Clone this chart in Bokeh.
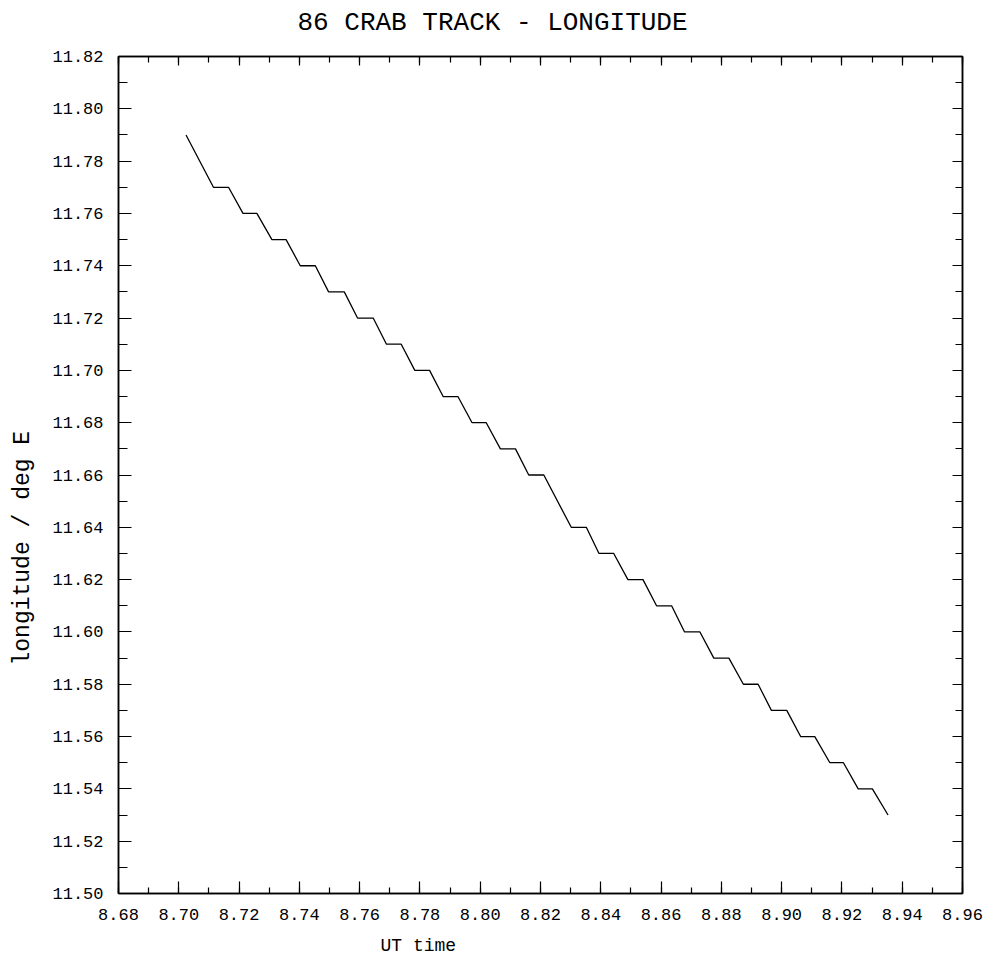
from bokeh.plotting import figure
from bokeh.models import (Range1d, LinearAxis, SingleIntervalTicker,
                          PrintfTickFormatter, Title)
from bokeh.embed import file_html
from bokeh.resources import INLINE

# Track vertices: UT time (hours) and longitude (deg E)
ut_time = [8.7024,
           8.7115, 8.7165, 8.7213, 8.7259, 8.7309, 8.7356, 8.7403, 8.7453,
           8.7497, 8.7549, 8.7593, 8.7645, 8.7689, 8.7738, 8.7783, 8.7832,
           8.7877, 8.7926, 8.7973, 8.8020, 8.8067, 8.8117, 8.8161, 8.8211,
           8.8302, 8.8352, 8.8394, 8.8443, 8.8490, 8.8540, 8.8585, 8.8635,
           8.8678, 8.8729, 8.8775, 8.8825, 8.8873, 8.8922, 8.8966, 8.9017,
           8.9063, 8.9110, 8.9160, 8.9205, 8.9254, 8.9301,
           8.9353]
longitude = [11.79,
             11.77, 11.77, 11.76, 11.76, 11.75, 11.75, 11.74, 11.74,
             11.73, 11.73, 11.72, 11.72, 11.71, 11.71, 11.70, 11.70,
             11.69, 11.69, 11.68, 11.68, 11.67, 11.67, 11.66, 11.66,
             11.64, 11.64, 11.63, 11.63, 11.62, 11.62, 11.61, 11.61,
             11.60, 11.60, 11.59, 11.59, 11.58, 11.58, 11.57, 11.57,
             11.56, 11.56, 11.55, 11.55, 11.54, 11.54,
             11.53]

x_limits = (8.68, 8.96)
y_limits = (11.50, 11.82)
tick_step = 0.02

title_text = "86 CRAB TRACK - LONGITUDE"
x_label = "UT time"
y_label = "longitude / deg E"

MONO = "Liberation Mono"

p = figure(width=990, height=960, output_backend="svg", toolbar_location=None,
           x_range=Range1d(*x_limits), y_range=Range1d(*y_limits),
           x_axis_location=None, y_axis_location=None, title=None,
           background_fill_color="white", border_fill_color="white",
           min_border=0, min_border_left=118, min_border_right=28,
           min_border_top=56, min_border_bottom=67)
p.grid.visible = False
p.outline_line_color = "black"
p.outline_line_width = 1.5


def make_axis(show_labels, major_in, minor_in, major_out=0):
    ax = LinearAxis(ticker=SingleIntervalTicker(interval=tick_step, num_minor_ticks=2),
                    formatter=PrintfTickFormatter(format="%.2f"))
    ax.axis_line_color = "black"
    ax.axis_line_width = 1.5
    ax.major_tick_out = major_out
    ax.minor_tick_out = 0
    ax.major_tick_in = major_in
    ax.minor_tick_in = minor_in
    ax.major_tick_line_color = "black"
    ax.minor_tick_line_color = "black"
    ax.major_tick_line_width = 1.2
    ax.minor_tick_line_width = 1.2
    if show_labels:
        ax.major_label_text_font = MONO
        ax.major_label_text_font_size = "17px"
        ax.major_label_text_color = "black"
        ax.major_label_standoff = 15
    else:
        # frame-only axis: ticks, no numbers
        ax.major_label_text_color = None
        ax.major_label_text_font_size = "1px"
        ax.major_label_standoff = 0
    return ax


def spacer(size):
    # invisible axis panel that only reserves room between an axis and its title
    ax = make_axis(False, 0, 0, major_out=size)
    ax.axis_line_color = None
    ax.major_tick_line_color = None
    ax.minor_tick_line_color = None
    return ax


p.add_layout(make_axis(True, 12, 6), "below")
p.add_layout(make_axis(True, 13, 9), "left")
p.add_layout(make_axis(False, 9, 6), "above")
p.add_layout(make_axis(False, 10, 7), "right")

p.add_layout(spacer(18), "above")
p.add_layout(spacer(11), "below")
p.add_layout(spacer(9), "left")

p.line(ut_time, longitude, line_color="black", line_width=1.3)

# Title and axis titles, placed as side-panel titles
p.add_layout(Title(text=title_text, text_font=MONO, text_font_size="26px",
                   text_font_style="normal", text_color="black",
                   align="left", offset=179, standoff=2), "above")
p.add_layout(Title(text=x_label, text_font=MONO, text_font_size="18px",
                   text_font_style="normal", text_color="black",
                   align="left", offset=262, standoff=0), "below")
p.add_layout(Title(text=y_label, text_font=MONO, text_font_size="23px",
                   text_font_style="normal", text_color="black",
                   align="left", offset=228, standoff=10), "left")

open("out.html", "w").write(file_html(p, INLINE))
